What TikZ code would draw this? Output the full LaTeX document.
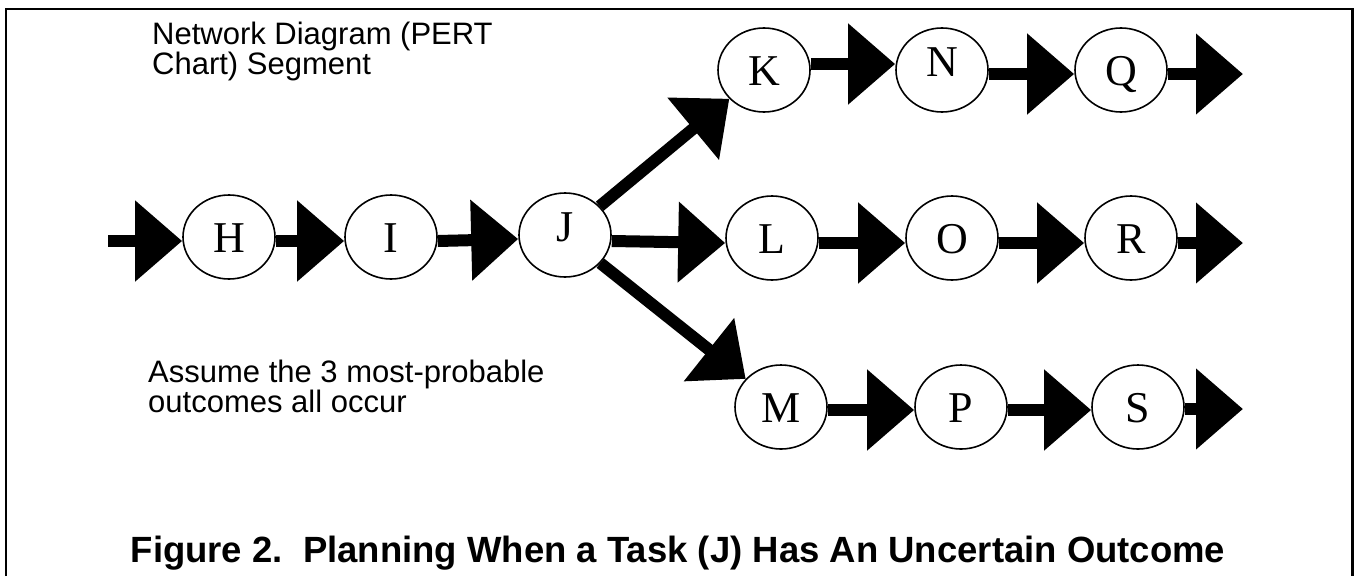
\documentclass[tikz,border=0pt]{standalone}
\usepackage{fontspec}
\setmainfont{Liberation Serif}
\newfontfamily\arialfont{Liberation Sans}
\usetikzlibrary{arrows.meta,shapes.geometric}

\begin{document}
\begin{tikzpicture}[x=1pt,y=-1pt,
  task/.style={ellipse, draw, line width=1.6pt, fill=white,
    minimum width=92pt, minimum height=84pt, inner sep=0pt,
    font=\fontsize{44}{44}\selectfont, text height=30pt, text depth=0pt},
  flow/.style={line width=12pt, -{Triangle[length=47pt,width=78pt]}},
  note/.style={font=\arialfont\fontsize{31}{27}\selectfont, align=left,
    anchor=base west, inner sep=0pt},
  caption/.style={font=\arialfont\bfseries\fontsize{36.5}{36.5}\selectfont,
    anchor=base, inner sep=0pt},
]
\useasboundingbox (0,0) rectangle (1354,576);

% frame open at the bottom
\draw[line width=2.5pt] (6,576) -- (6,9) -- (1352.5,9) -- (1352.5,576);

% tasks
\node[task] (H) at (229,237) {H};
\node[task] (I) at (391,237) {I};
\node[task] (J) at (565,235) {\raisebox{9pt}{J}};
\node[task] (L) at (772,238) {L};
\node[task] (O) at (952,238) {O};
\node[task] (R) at (1131,238) {R};
\node[task] (K) at (764,70) {K};
\node[task] (N) at (942,70) {\raisebox{9pt}{N}};
\node[task] (Q) at (1121,70) {Q};
\node[task] (M) at (781,407) {M};
\node[task] (P) at (961,407) {P};
\node[task] (S) at (1138,407) {S};

% free ends of the open arrows
\coordinate (in)   at (108,241);
\coordinate (outQ) at (1243,74);
\coordinate (outR) at (1243,243);
\coordinate (outS) at (1243,409);

% dependencies
\draw[flow] (in) -- ([yshift=-4pt]H.west);
\draw[flow] ([yshift=-4pt]H.east) -- ([yshift=-4pt]I.west);
\draw[flow] ([yshift=-4pt]I.east) -- ([yshift=-4pt]J.west);
\draw[flow] (J) -- (K);
\draw[flow] ([yshift=-6pt]J.east) -- ([yshift=-5pt]L.west);
\draw[flow] (J) -- (M);
\draw[flow] ([yshift=6pt]K.east) -- ([yshift=6pt]N.west);
\draw[flow] ([yshift=-4pt]N.east) -- ([yshift=-4pt]Q.west);
\draw[flow] ([yshift=-4pt]Q.east) -- (outQ);
\draw[flow] ([yshift=-5pt]L.east) -- ([yshift=-5pt]O.west);
\draw[flow] ([yshift=-5pt]O.east) -- ([yshift=-5pt]R.west);
\draw[flow] ([yshift=-5pt]R.east) -- (outR);
\draw[flow] ([yshift=-3pt]M.east) -- ([yshift=-3pt]P.west);
\draw[flow] ([yshift=-3pt]P.east) -- ([yshift=-3pt]S.west);
\draw[flow] ([yshift=-2pt]S.east) -- (outS);

% notes (anchored on the baseline of their last line)
\node[note] (title) at (152,74) {Network Diagram (PERT\\Chart) Segment};
\node[note] (assume) at (148,412) {Assume the 3 most-probable\\outcomes all occur};
\node[caption] (cap) at (678,562) {Figure 2.\ \ Planning When a Task (J) Has An Uncertain Outcome};
\end{tikzpicture}
\end{document}
